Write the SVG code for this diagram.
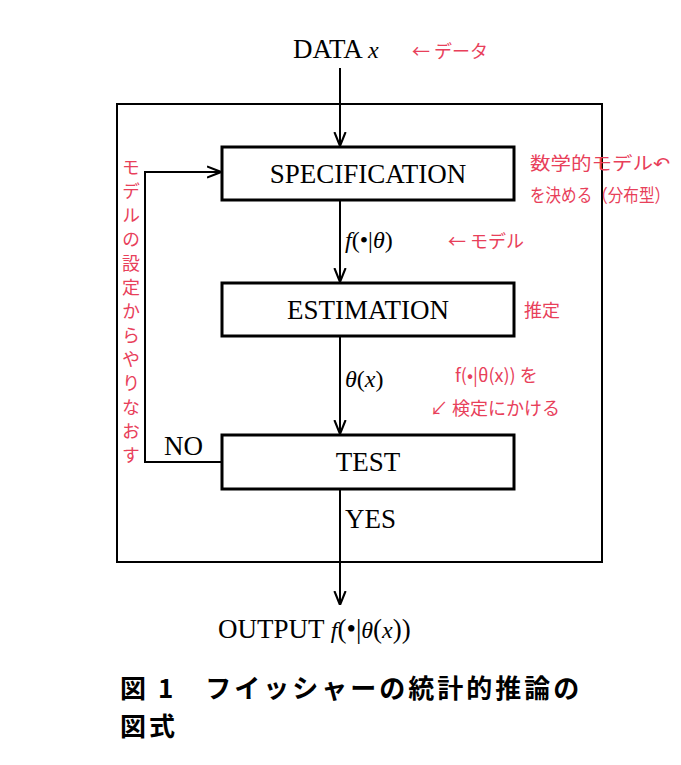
<svg xmlns="http://www.w3.org/2000/svg" width="681" height="765" viewBox="0 0 681 765">
<style>
.b{fill:#fff;stroke:#000;stroke-width:3}
.l{fill:none;stroke:#000;stroke-width:2}
.t{font-family:"Liberation Serif",serif;font-size:27px;fill:#000}
.m{font-family:"Liberation Serif",serif;font-size:24px;fill:#000;font-style:italic}
.r{font-family:"Noto Sans CJK JP",sans-serif;font-size:18px;fill:#e8405a}
.c{font-family:"Noto Sans CJK JP",sans-serif;font-size:26px;font-weight:bold;fill:#000;letter-spacing:3px}
</style>
<defs><marker id="a" viewBox="0 0 10 10" refX="10" refY="5" markerWidth="7" markerHeight="7" orient="auto"><path d="M0,1 L10,5 L0,9" fill="none" stroke="#000" stroke-width="1.5"/></marker></defs>
<rect x="117" y="104" width="485" height="458" fill="none" stroke="#000" stroke-width="2"/>
<g id="connectors">
<line class="l" x1="340" y1="68" x2="340" y2="146" marker-end="url(#a)"/>
<line class="l" x1="340" y1="200" x2="340" y2="282" marker-end="url(#a)"/>
<line class="l" x1="340" y1="336" x2="340" y2="434" marker-end="url(#a)"/>
<line class="l" x1="340" y1="489" x2="340" y2="605" marker-end="url(#a)"/>
<polyline class="l" points="222,462 145,462 145,172 221,172" marker-end="url(#a)"/>
</g>
<g id="data"><text class="t" x="293" y="58">DATA <tspan class="m" font-size="27">x</tspan></text><text class="r" x="412" y="58">← データ</text></g>
<g id="spec"><rect class="b" x="222" y="147" width="292" height="53"/><text class="t" x="368" y="183" text-anchor="middle">SPECIFICATION</text></g>
<g id="est"><rect class="b" x="222" y="283" width="292" height="53"/><text class="t" x="368" y="319" text-anchor="middle">ESTIMATION</text></g>
<g id="test"><rect class="b" x="222" y="435" width="292" height="54"/><text class="t" x="368" y="471" text-anchor="middle">TEST</text></g>
<text class="m" x="345" y="248">f<tspan font-style="normal">(•|</tspan>θ<tspan font-style="normal">)</tspan></text>
<text class="m" x="345" y="387">θ<tspan font-style="normal">(</tspan>x<tspan font-style="normal">)</tspan></text>
<text class="t" x="164" y="455" font-size="24">NO</text>
<text class="t" x="345" y="528" font-size="24">YES</text>
<text class="t" x="218" y="638">OUTPUT <tspan class="m" font-size="27">f</tspan>(•|<tspan class="m" font-size="27">θ</tspan>(<tspan class="m" font-size="27">x</tspan>))</text>
<g id="notes">
<text class="r" x="530" y="170" font-size="17" textLength="140" lengthAdjust="spacingAndGlyphs">数学的モデル↶</text>
<text class="r" x="530" y="202" font-size="16" textLength="140" lengthAdjust="spacingAndGlyphs">を決める（分布型）</text>
<text class="r" x="448" y="248">← モデル</text>
<text class="r" x="524" y="317">推定</text>
<text class="r" x="455" y="382">f(•|θ(x)) を</text>
<text class="r" x="430" y="415">↙ 検定にかける</text>
<text class="r" x="131" y="158" style="writing-mode:vertical-rl;text-orientation:upright;letter-spacing:6px" font-size="17">モデルの設定からやりなおす</text>
</g>
<g id="caption"><text class="c" x="120" y="698">図 1　フイッシャーの統計的推論の</text><text class="c" x="120" y="736">図式</text></g>
</svg>
